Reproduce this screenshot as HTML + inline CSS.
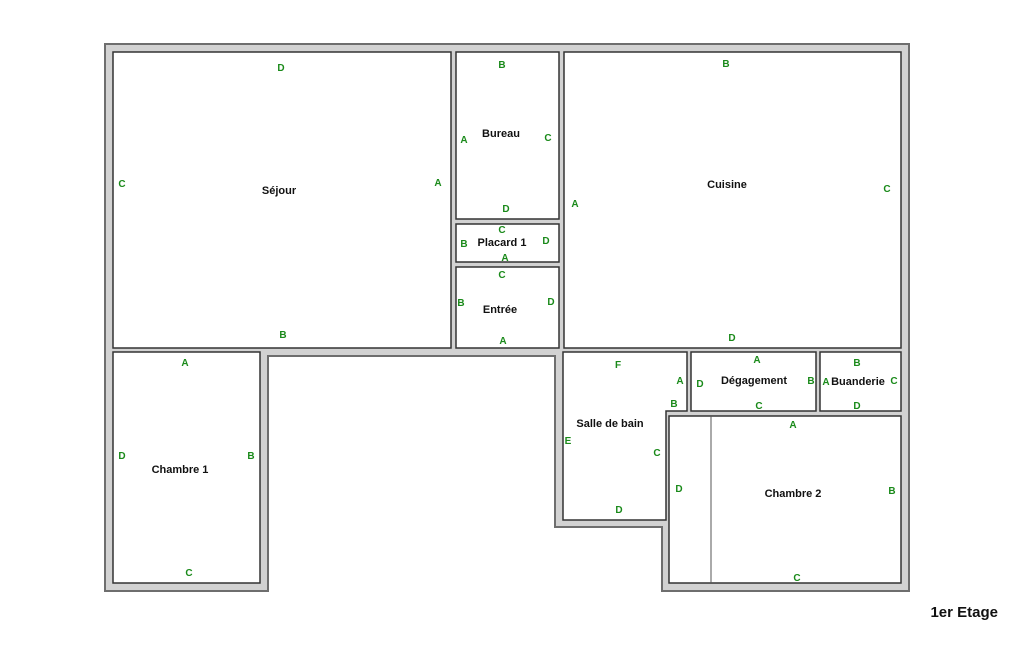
<!DOCTYPE html>
<html><head><meta charset="utf-8"><style>
html,body{margin:0;padding:0;background:#fff;width:1025px;height:650px;overflow:hidden}
svg text{font-family:"Liberation Sans",sans-serif;font-weight:bold}
.g{fill:#1a8a1a;font-size:10px}
.n{fill:#111;font-size:11px}
</style></head><body>
<svg width="1025" height="650" viewBox="0 0 1025 650">
<polygon points="105,44 909,44 909,591 662,591 662,527 555,527 555,356 268,356 268,591 105,591" fill="#d2d2d2" stroke="#6e6e6e" stroke-width="2"/>
<g fill="#fff" stroke="#333" stroke-width="1.5">
<rect x="113" y="52" width="338" height="296"/>
<rect x="456" y="52" width="103" height="167"/>
<rect x="456" y="224" width="103" height="38"/>
<rect x="456" y="267" width="103" height="81"/>
<rect x="564" y="52" width="337" height="296"/>
<rect x="113" y="352" width="147" height="231"/>
<polygon points="563,352 687,352 687,411 666,411 666,520 563,520"/>
<rect x="691" y="352" width="125" height="59"/>
<rect x="820" y="352" width="81" height="59"/>
<rect x="669" y="416" width="232" height="167"/>
</g>
<line x1="711" y1="416" x2="711" y2="583" stroke="#555" stroke-width="1"/>
<g class="n" text-anchor="middle">
<text x="279" y="194">Séjour</text>
<text x="501" y="137">Bureau</text>
<text x="502" y="246">Placard 1</text>
<text x="500" y="313">Entrée</text>
<text x="727" y="188">Cuisine</text>
<text x="180" y="473">Chambre 1</text>
<text x="610" y="427">Salle de bain</text>
<text x="754" y="384">Dégagement</text>
<text x="858" y="385">Buanderie</text>
<text x="793" y="497">Chambre 2</text>
</g>
<g class="g" text-anchor="middle">
<text x="281" y="71">D</text><text x="122" y="187">C</text><text x="438" y="186">A</text><text x="283" y="338">B</text>
<text x="502" y="68">B</text><text x="464" y="143">A</text><text x="548" y="141">C</text><text x="506" y="212">D</text>
<text x="502" y="233">C</text><text x="464" y="247">B</text><text x="546" y="244">D</text><text x="505" y="261">A</text>
<text x="502" y="278">C</text><text x="461" y="306">B</text><text x="551" y="305">D</text><text x="503" y="344">A</text>
<text x="726" y="67">B</text><text x="575" y="207">A</text><text x="887" y="192">C</text><text x="732" y="341">D</text>
<text x="185" y="366">A</text><text x="122" y="459">D</text><text x="251" y="459">B</text><text x="189" y="576">C</text>
<text x="618" y="368">F</text><text x="680" y="384">A</text><text x="674" y="407">B</text><text x="568" y="444">E</text><text x="657" y="456">C</text><text x="619" y="513">D</text>
<text x="757" y="363">A</text><text x="700" y="387">D</text><text x="811" y="384">B</text><text x="759" y="409">C</text>
<text x="826" y="385">A</text><text x="857" y="366">B</text><text x="894" y="384">C</text><text x="857" y="409">D</text>
<text x="793" y="428">A</text><text x="679" y="492">D</text><text x="892" y="494">B</text><text x="797" y="581">C</text>
</g>
<text x="998" y="617" text-anchor="end" style="font-size:15px;fill:#111">1er Etage</text>
</svg>
</body></html>
